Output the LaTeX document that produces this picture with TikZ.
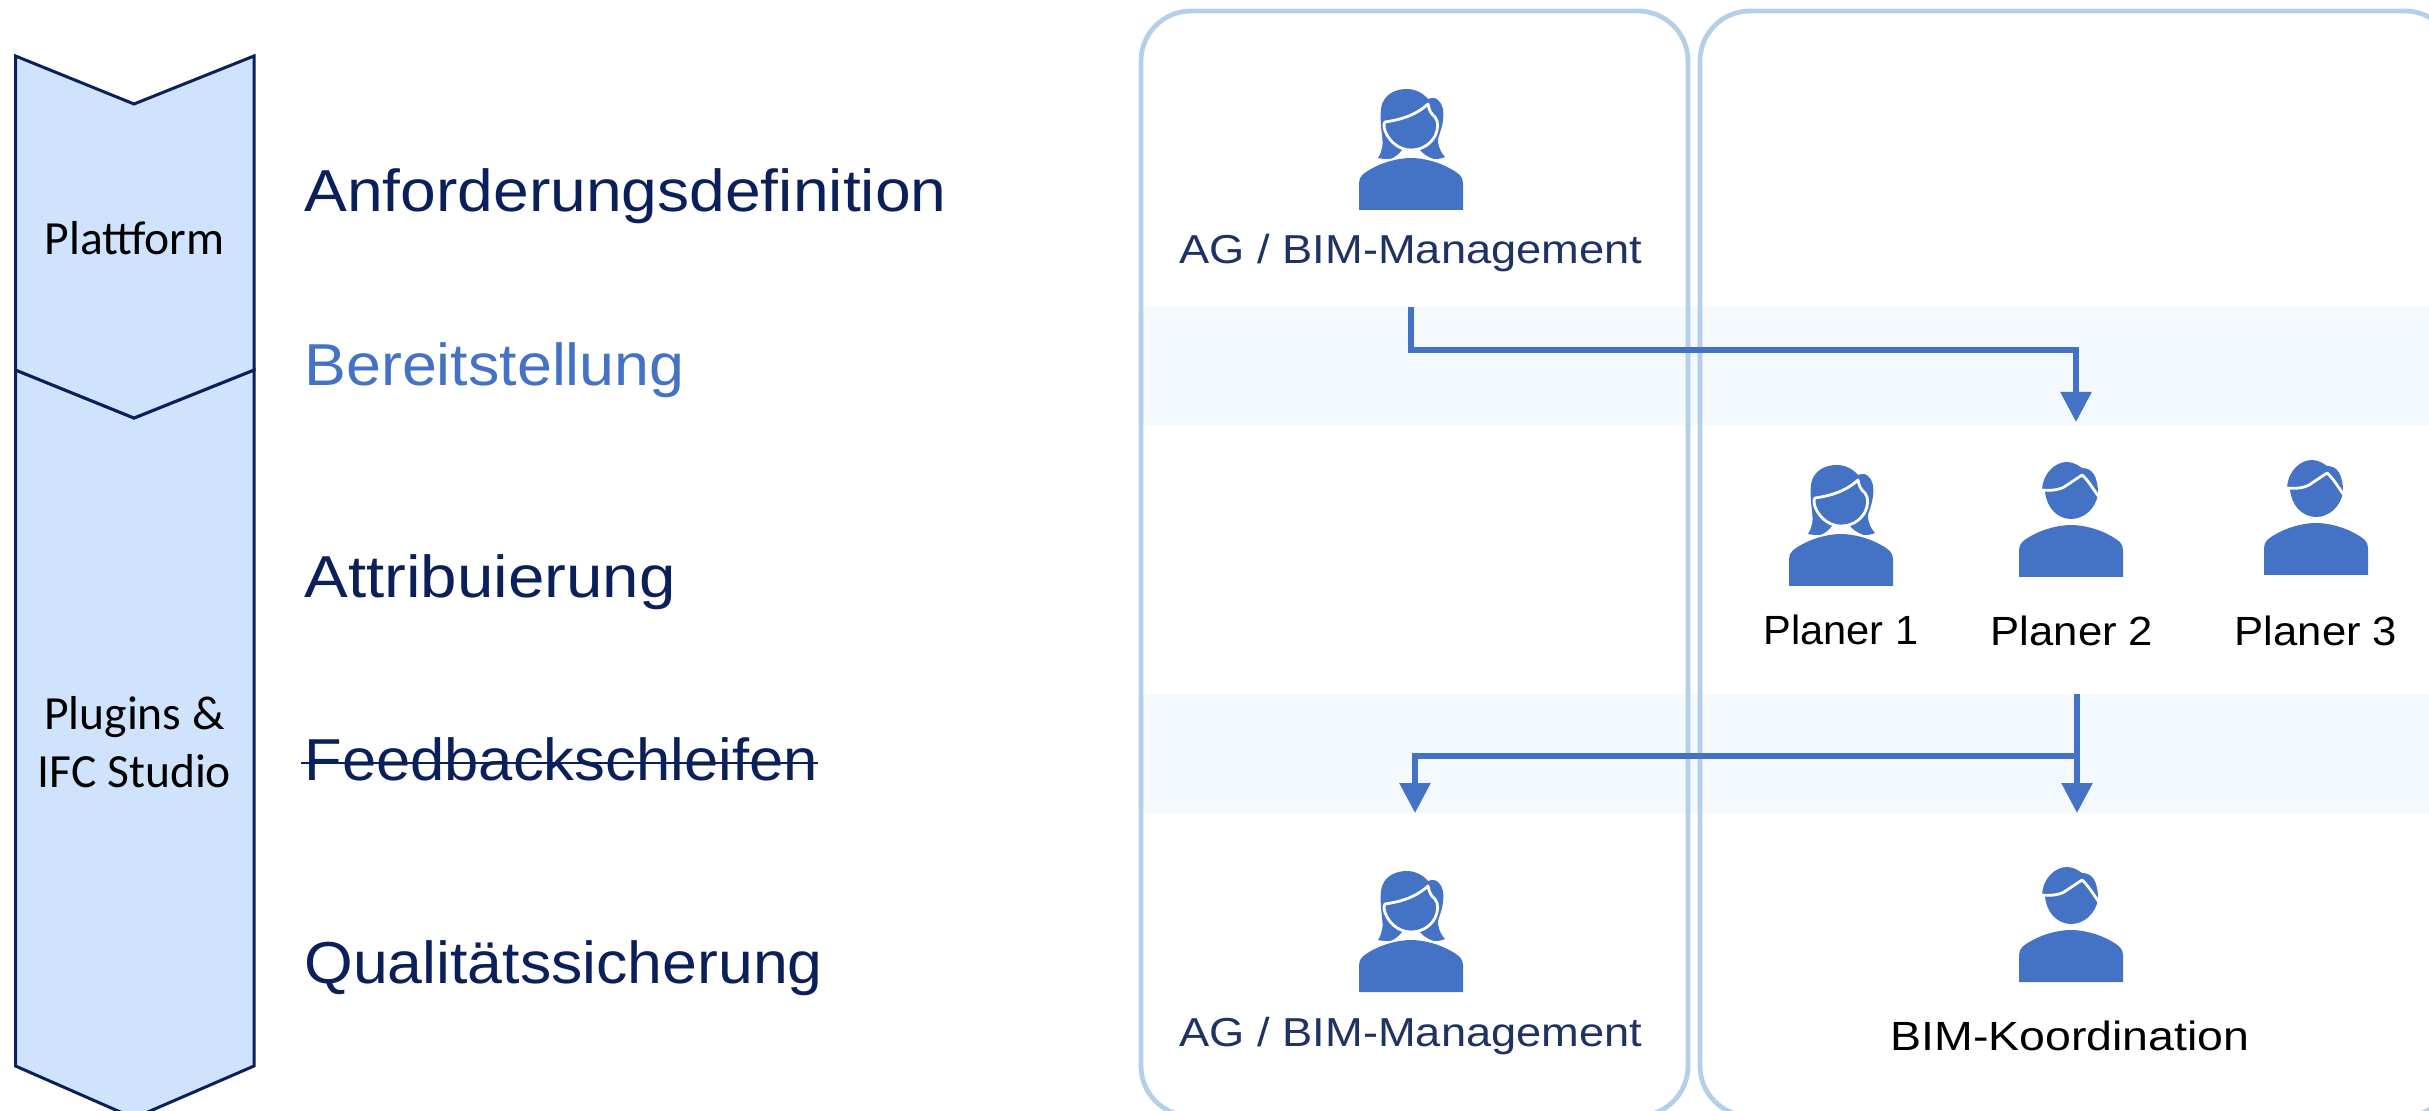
\documentclass[tikz,border=0pt]{standalone}
\usepackage{fontspec}
\setmainfont{Liberation Sans}
\newfontfamily\calfont{Carlito}
\usetikzlibrary{arrows.meta}
\definecolor{navy}{HTML}{0B1F5A}
\definecolor{navylabel}{HTML}{1F3264}
\definecolor{iconblue}{HTML}{4472C4}
\definecolor{panelline}{HTML}{B4CFE8}
\definecolor{bandfill}{HTML}{F4F9FE}
\definecolor{chevfill}{HTML}{CFE4FC}
\newcommand{\wide}[2]{\scalebox{#1}[1]{#2}}
\tikzset{
  chev/.style={draw=navy,fill=chevfill,line width=1.5pt,line join=miter},
  panel/.style={draw=panelline,line width=2.4pt,rounded corners=25pt},
  band/.style={fill=bandfill,draw=none},
  title/.style={anchor=base west,inner sep=0pt,font=\fontsize{29.6}{34}\selectfont,text=navy},
  chevlabel/.style={anchor=base,inner sep=0pt,font=\calfont\fontsize{23.8}{28}\selectfont,text=black},
  aglabel/.style={anchor=base,inner sep=0pt,font=\fontsize{20.2}{24}\selectfont,text=navylabel},
  planlabel/.style={anchor=base,inner sep=0pt,font=\fontsize{20.4}{24}\selectfont,text=black},
  flow/.style={draw=iconblue,line width=2.8pt,line join=miter},
  flowarrow/.style={flow,-{Triangle[length=15pt,width=15pt]}},
  hairline/.style={draw=white,line width=1.4pt,line cap=round,line join=round},
  shoulders/.pic={
    \fill[iconblue] (-52,0) -- (-52,-27) .. controls (-52,-34) and (-47,-37) .. (-40,-41)
      .. controls (-28,-48) and (-12,-52) .. (0,-52)
      .. controls (12,-52) and (28,-48) .. (40,-41)
      .. controls (47,-37) and (52,-34) .. (52,-27) -- (52,0) -- cycle;
  },
  man/.pic={
    \pic {shoulders};
    \fill[iconblue] (-29,-87) .. controls (-28,-105) and (-15,-115) .. (-4,-115)
      .. controls (3,-115) and (8,-111) .. (11,-109)
      .. controls (22,-109) and (27,-100) .. (27,-82)
      .. controls (24,-68) and (13,-58) .. (0,-58)
      .. controls (-14,-58) and (-25,-70) .. (-26,-86) -- cycle;
    \draw[hairline] (-29,-87) .. controls (-20,-86) and (-10,-87) .. (-4,-92)
      -- (11,-102) .. controls (17,-97) and (22,-88) .. (28,-80);
  },
  woman/.pic={
    \pic {shoulders};
    \fill[iconblue] (-33,-52) .. controls (-28,-60) and (-28,-66) .. (-29,-75)
      .. controls (-31,-90) and (-31,-103) .. (-28,-108)
      .. controls (-24,-117) and (-14,-121) .. (-4,-121)
      .. controls (4,-121) and (12,-117) .. (17,-111)
      .. controls (20,-112) and (24,-113) .. (27,-110)
      .. controls (32,-106) and (33,-98) .. (32,-90)
      .. controls (31,-80) and (26,-72) .. (27,-68)
      .. controls (28,-62) and (30,-57) .. (34,-53)
      .. controls (29,-51) and (24,-50) .. (20,-52)
      .. controls (16,-54) and (12,-56) .. (9,-60)
      -- (-9,-60) .. controls (-12,-56) and (-17,-52) .. (-21,-51)
      .. controls (-25,-51) and (-29,-51) .. (-33,-52) -- cycle;
    \fill[iconblue,draw=white,line width=1.4pt,line join=round]
      (-26,-88) .. controls (-12,-90) and (4,-94) .. (17,-106)
      .. controls (18,-100) and (20,-96) .. (24,-93)
      .. controls (28,-88) and (27,-80) .. (24,-74)
      .. controls (19,-65) and (10,-60) .. (0,-60)
      .. controls (-10,-60) and (-19,-66) .. (-24,-75)
      .. controls (-27,-80) and (-28,-86) .. (-26,-88) -- cycle;
  },
}
\begin{document}
\begin{tikzpicture}[x=0.5pt,y=-0.5pt]
\clip (0,0) rectangle (2429,1111);
% bands
\fill[band] (1141,307) rectangle (2429,425);
\fill[band] (1141,694) rectangle (2429,813);
% panels
\draw[panel] (1141,11) rectangle (1688,1116);
\draw[panel] (1700,11) rectangle (2455,1116);
% chevrons
\path[chev] (15.5,370) -- (134,418) -- (254,370) -- (254,1066) -- (134,1118) -- (15.5,1066) -- cycle;
\path[chev] (15.5,56) -- (134,104) -- (254,56) -- (254,370) -- (134,418) -- (15.5,370) -- cycle;
\node[chevlabel] (plattform) at (134.5,255) {Plattform};
\node[chevlabel] (plugins) at (134.5,729.5) {Plugins \&};
\node[chevlabel] (ifc) at (134.5,787.5) {IFC Studio};
% titles
\node[title] (t1) at (304,212) {\wide{1.084}{Anforderungsdefinition}};
\node[title,text=iconblue] (t2) at (304,386) {\wide{1.06}{Bereitstellung}};
\node[title] (t3) at (304,598) {\wide{1.106}{Attribuierung}};
\node[title] (t4) at (304,780) {\wide{1.04}{Feedbackschleifen}};
\node[title] (t5) at (304,983) {\wide{1.057}{Qualitätssicherung}};
\coordinate (s1) at (301,763);
\coordinate (s2) at (818,763);
\draw[navy,line width=1.3pt] (s1) -- (s2);
% icons
\pic at (1411,210) {woman};
\pic at (1411,992) {woman};
\pic at (1841,586) {woman};
\pic at (2071,577) {man};
\pic at (2316,575) {man};
\pic at (2071,982) {man};
% labels
\node[aglabel] (ag1) at (1411,264) {\wide{1.12}{AG / BIM-Management}};
\node[aglabel] (ag2) at (1411,1046) {\wide{1.12}{AG / BIM-Management}};
\node[planlabel] (p1) at (1841,645) {\wide{1.02}{Planer 1}};
\node[planlabel] (p2) at (2072,646) {\wide{1.07}{Planer 2}};
\node[planlabel] (p3) at (2316,646) {\wide{1.07}{Planer 3}};
\node[planlabel] (bk) at (2070,1050) {\wide{1.14}{BIM-Koordination}};
% connectors
\coordinate (a0) at (1411,307);
\coordinate (a1) at (1411,350);
\coordinate (a2) at (2076,350);
\coordinate (a3) at (2076,422);
\draw[flowarrow] (a0) -- (a1) -- (a2) -- (a3);
\coordinate (b0) at (2077,694);
\coordinate (b1) at (2077,756);
\coordinate (b2) at (2077,813);
\coordinate (c1) at (1415,756);
\coordinate (c2) at (1415,813);
\draw[flowarrow] (b0) -- (b2);
\draw[flowarrow] (b1) -- (c1) -- (c2);
\end{tikzpicture}
\end{document}
